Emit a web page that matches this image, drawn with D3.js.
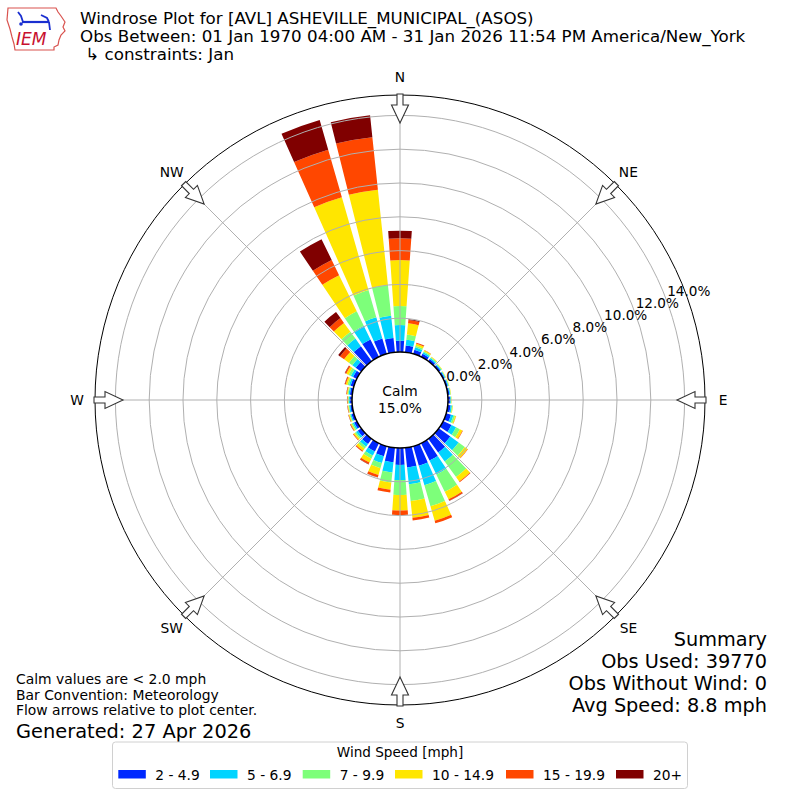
<!DOCTYPE html>
<html><head><meta charset="utf-8">
<script src="https://cdn.jsdelivr.net/npm/d3@7"></script>
<style>body{margin:0;background:#fff} svg{display:block} text{font-family:"DejaVu Sans",sans-serif;fill:#000}</style>
</head><body><svg id="c" width="800" height="800"></svg>
<script>
// ---- data ----
const directions = [0,10,20,30,40,50,60,70,80,90,100,110,120,130,140,150,160,170,180,190,200,210,220,230,240,250,260,270,280,290,300,310,320,330,340,350];
const speedBins = ["2 - 4.9","5 - 6.9","7 - 9.9","10 - 14.9","15 - 19.9","20+"];
const binColors = ["#0028ff","#00d4ff","#7dff7a","#ffe600","#ff4700","#800000"];
// percent of observations per direction for each speed bin
const s2_4 =   [0.67,0.40,0.25,0.20,0.15,0.12,0.10,0.10,0.10,0.12,0.17,0.30,0.55,0.84,1.00,1.15,1.20,1.17,1.00,0.86,0.62,0.55,0.38,0.25,0.18,0.15,0.12,0.12,0.14,0.20,0.25,0.40,1.10,1.15,0.95,0.85];
const s5_6 =   [0.93,0.35,0.15,0.10,0.08,0.06,0.05,0.05,0.05,0.05,0.08,0.15,0.30,0.61,0.66,0.91,1.20,1.00,0.90,0.61,0.42,0.27,0.19,0.13,0.10,0.07,0.07,0.07,0.08,0.10,0.15,0.25,0.55,0.90,1.30,1.32];
const s7_9 =   [1.12,0.30,0.10,0.07,0.05,0.04,0.03,0.03,0.03,0.03,0.04,0.10,0.25,0.45,1.14,1.14,1.30,1.00,0.88,0.60,0.32,0.20,0.15,0.09,0.07,0.05,0.04,0.04,0.05,0.10,0.15,0.25,0.50,0.95,1.68,1.83];
const s10_14 = [2.72,0.67,0.12,0.06,0.04,0.03,0.02,0.02,0.02,0.02,0.03,0.06,0.17,0.20,0.32,0.50,0.90,1.00,0.92,0.43,0.41,0.26,0.16,0.09,0.06,0.05,0.04,0.04,0.05,0.10,0.15,0.35,0.65,2.38,5.71,5.67];
const s15_19 = [1.29,0.20,0.06,0.02,0.01,0.00,0.00,0.00,0.00,0.00,0.00,0.01,0.03,0.03,0.05,0.10,0.15,0.16,0.26,0.16,0.15,0.10,0.06,0.04,0.03,0.02,0.02,0.02,0.03,0.06,0.08,0.30,0.35,1.00,2.93,3.13];
const s20p =   [0.45,0.05,0.01,0.00,0.00,0.00,0.00,0.00,0.00,0.00,0.00,0.00,0.00,0.00,0.00,0.01,0.00,0.00,0.00,0.01,0.01,0.02,0.01,0.00,0.01,0.01,0.01,0.01,0.01,0.01,0.02,0.13,0.45,1.37,1.83,1.30];
const ringTicks = [0,2,4,6,8,10,12,14];
const compass = [["N",0],["NE",45],["E",90],["SE",135],["S",180],["SW",225],["W",270],["NW",315]];
const calmPct = 15.0;
const titleLines = ["Windrose Plot for [AVL] ASHEVILLE_MUNICIPAL_(ASOS)",
  "Obs Between: 01 Jan 1970 04:00 AM - 31 Jan 2026 11:54 PM America/New_York",
  " \u21b3 constraints: Jan"];
const summaryLines = ["Summary","Obs Used: 39770","Obs Without Wind: 0","Avg Speed: 8.8 mph"];
const noteLines = ["Calm values are < 2.0 mph","Bar Convention: Meteorology","Flow arrows relative to plot center."];
const generated = "Generated: 27 Apr 2026";

// ---- drawing ----
const svg = d3.select("#c");
const cx = 400, cy = 400, outerR = 305, calmR = 48;
const r = d3.scaleLinear().domain([0,14]).range([calmR, 284.6]);
const rad = Math.PI/180;
const g = svg.append("g").attr("transform",`translate(${cx},${cy})`);

const series = [s2_4,s5_6,s7_9,s10_14,s15_19,s20p];
const rows = directions.map((d,i)=>{const o={dir:d}; speedBins.forEach((b,j)=>o[b]=series[j][i]); return o;});
const stacked = d3.stack().keys(speedBins)(rows);

const arc = d3.arc();
stacked.forEach((layer,j)=>{
  g.append("g").selectAll("path").data(layer).join("path")
    .attr("d", d=>arc({innerRadius:r(d[0]), outerRadius:r(d[1]),
        startAngle:(d.data.dir-4)*rad, endAngle:(d.data.dir+4)*rad}))
    .attr("fill", binColors[j]);
});

// grid (drawn above bars)
const grid = g.append("g").attr("stroke","#b0b0b0").attr("fill","none").attr("stroke-width",1);
grid.selectAll("circle").data(ringTicks.slice(1)).join("circle").attr("r",d=>r(d));
grid.selectAll("line").data(compass).join("line")
  .attr("x1",d=>calmR*Math.sin(d[1]*rad)).attr("y1",d=>-calmR*Math.cos(d[1]*rad))
  .attr("x2",d=>outerR*Math.sin(d[1]*rad)).attr("y2",d=>-outerR*Math.cos(d[1]*rad));

// outer circle
g.append("circle").attr("r",outerR).attr("fill","none").attr("stroke","#000").attr("stroke-width",1);

// calm circle
g.append("circle").attr("r",calmR).attr("fill","#fff").attr("stroke","#000").attr("stroke-width",1.5);
g.append("text").attr("text-anchor","middle").attr("y",-4).attr("font-size",13.8).text("Calm");
g.append("text").attr("text-anchor","middle").attr("y",12.5).attr("font-size",13.8).text(calmPct.toFixed(1)+"%");

// ring labels
const la = 21*rad;
g.selectAll("text.rl").data(ringTicks).join("text").attr("class","rl")
  .attr("x",d=>r(d)*Math.cos(la)+1.5).attr("y",d=>-r(d)*Math.sin(la)-2)
  .attr("font-size",13.6).text(d=>d.toFixed(1)+"%");

// arrows
const arrowPts = [[-3,-306],[3,-306],[3,-295],[8.5,-295],[0,-277],[-8.5,-295],[-3,-295]];
g.selectAll("polygon.ar").data(compass).join("polygon").attr("class","ar")
  .attr("points",arrowPts.map(p=>p.join(",")).join(" "))
  .attr("transform",d=>`rotate(${d[1]})`)
  .attr("fill","#fff").attr("stroke","#333").attr("stroke-width",1.1).attr("stroke-linejoin","miter");

// compass labels
g.selectAll("text.cl").data(compass).join("text").attr("class","cl")
  .attr("x",d=>323*Math.sin(d[1]*rad)).attr("y",d=>-323*Math.cos(d[1]*rad)+5)
  .attr("text-anchor","middle").attr("font-size",13.8).text(d=>d[0]);

// titles
svg.selectAll("text.tt").data(titleLines).join("text").attr("class","tt")
  .attr("x",80).attr("y",(d,i)=>24+i*18.2).attr("font-size",16.7).attr("xml:space","preserve").text(d=>d);

// summary
svg.selectAll("text.sm").data(summaryLines).join("text").attr("class","sm")
  .attr("x",767).attr("y",(d,i)=>646+i*22).attr("text-anchor","end").attr("font-size",19.3).text(d=>d);

// notes
svg.selectAll("text.nt").data(noteLines).join("text").attr("class","nt")
  .attr("x",16).attr("y",(d,i)=>684+i*15.6).attr("font-size",13.9).text(d=>d);
svg.append("text").attr("x",16).attr("y",737.5).attr("font-size",19.4).text(generated);

// legend
const lg = svg.append("g");
lg.append("rect").attr("x",112.5).attr("y",742).attr("width",575).attr("height",46.5).attr("rx",3)
  .attr("fill","#fff").attr("stroke","#d0d0d0").attr("stroke-width",1);
lg.append("text").attr("x",400).attr("y",757).attr("text-anchor","middle").attr("font-size",13.6).text("Wind Speed [mph]");
const swX = [118.3,210,302.7,395,506,616];
speedBins.forEach((b,i)=>{
  lg.append("rect").attr("x",swX[i]).attr("y",770).attr("width",27.5).attr("height",8.5).attr("fill",binColors[i]);
  lg.append("text").attr("x",swX[i]+37).attr("y",779.5).attr("font-size",13.8).text(b);
});

// IEM logo (approximate)
const logo = svg.append("g");
logo.append("path").attr("d","M8,8 L56,8 L58,12 L61,16 L65,22 L63,27 L65,31 L61,35 L59,40 L58,45 L54,47 L54,50 L15,50 L14,44 L12,37 L10,29 L7,20 Z")
  .attr("fill","#fff").attr("stroke","#d9534f").attr("stroke-width",1.2);
logo.append("path").attr("d","M22,22 L49,22").attr("stroke","#1a2fd0").attr("stroke-width",2.2);
logo.append("path").attr("d","M18,12 L21,16 L23,22 M41,15 L47,18 L49,22 M49,22 L50,30").attr("stroke","#1a2fd0").attr("stroke-width",1.8).attr("fill","none");
logo.append("circle").attr("cx",21).attr("cy",24).attr("r",1.8).attr("fill","#1a2fd0");
logo.append("text").attr("x",16).attr("y",45).attr("font-family","Liberation Serif").attr("font-style","italic")
  .attr("font-size",17).style("fill","#c8102e").text("IEM");
</script></body></html>
